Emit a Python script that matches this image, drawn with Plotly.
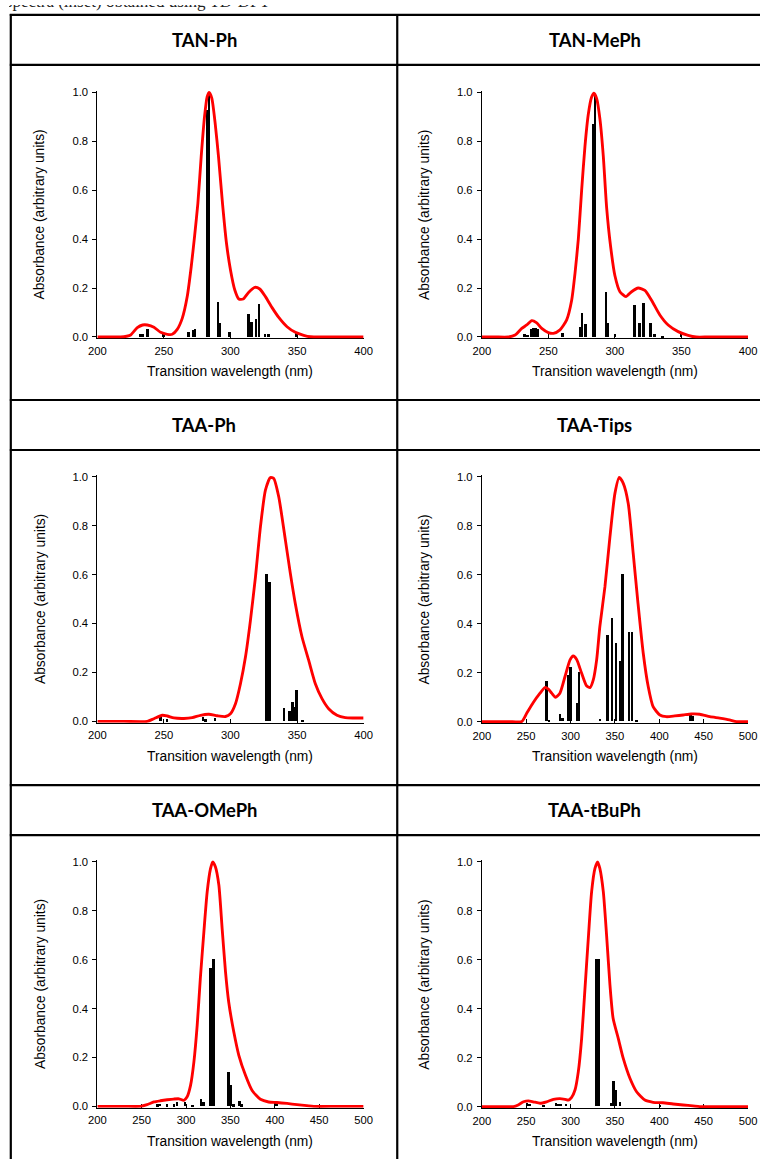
import plotly.graph_objects as go

W, H = 769, 1163

# ---------------- data ----------------
panel_titles = ["TAN-Ph", "TAN-MePh", "TAA-Ph", "TAA-Tips", "TAA-OMePh", "TAA-tBuPh"]
x_max = [400, 400, 400, 500, 500, 500]
y_ticks = [0.0, 0.2, 0.4, 0.6, 0.8, 1.0]
y_tick_labels = ["0.0", "0.2", "0.4", "0.6", "0.8", "1.0"]
x_title = "Transition wavelength (nm)"
y_title = "Absorbance (arbitrary units)"
caption_text = "spectra (inset) obtained using TD-DFT"

# TAN-Ph
tanph_curve_x = [200, 210, 217.5, 222, 225, 230, 234, 237.5, 242.5, 247.5, 252.5, 256.25, 260, 263.75,
                 267.5, 270.5, 273, 275.5, 278, 280.5, 282.5, 284, 286, 288.5, 291, 294, 297, 300,
                 303.25, 306.25, 309.5, 313.75, 318.25, 322, 326.25, 331.25, 336.25, 342.5, 348.75,
                 355, 360, 370, 385, 400]
tanph_curve_y = [0, 0, 0, 0.003, 0.008, 0.038, 0.049, 0.049, 0.04, 0.019, 0.011, 0.011, 0.031, 0.076,
                 0.165, 0.287, 0.41, 0.546, 0.737, 0.9, 0.982, 0.999, 0.975, 0.873, 0.737, 0.546, 0.383,
                 0.274, 0.192, 0.155, 0.155, 0.183, 0.203, 0.196, 0.165, 0.12, 0.08, 0.042, 0.019,
                 0.007, 0.001, 0, 0, 0]
tanph_stick_x = [232.5, 234, 238, 250, 268.75, 272, 273.5, 283, 284.2, 290.75, 292, 299.5,
                 314, 316.25, 319.5, 321.75, 326.25, 329, 349.5]
tanph_stick_y = [0.015, 0.012, 0.035, 0.012, 0.022, 0.031, 0.034, 0.93, 0.995, 0.144, 0.06, 0.02,
                 0.094, 0.061, 0.076, 0.135, 0.015, 0.014, 0.018]

# TAN-MePh
tanmeph_curve_x = [200, 210, 220, 225, 230, 233.75, 237.5, 241, 245, 250, 253.75, 258.75, 263.75,
                   267.5, 270, 272.5, 275, 277.5, 280, 282.5, 284.25, 286.25, 288.75, 291.25, 293.75,
                   296.75, 300, 303.75, 308.25, 312.5, 317.5, 322.5, 327.5, 333.75, 340, 347.5, 355,
                   361, 370, 385, 400]
tanmeph_curve_y = [0, 0, 0, 0.008, 0.035, 0.049, 0.067, 0.059, 0.035, 0.018, 0.015, 0.029, 0.07,
                   0.15, 0.26, 0.40, 0.60, 0.78, 0.91, 0.98, 0.996, 0.975, 0.89, 0.74, 0.53,
                   0.37, 0.25, 0.185, 0.165, 0.185, 0.2, 0.19, 0.15, 0.09, 0.049, 0.022, 0.007,
                   0, 0, 0, 0]
tanmeph_stick_x = [231.75, 234.25, 237, 238.25, 240, 241.75, 260.5, 273.75, 275.25, 277.75, 283.5,
                   284.75, 293, 294.25, 300, 314.5, 318.25, 321.25, 326.75, 329.5, 335.5, 349.5]
tanmeph_stick_y = [0.015, 0.011, 0.035, 0.038, 0.038, 0.033, 0.019, 0.04, 0.097, 0.053, 0.873,
                   0.99, 0.183, 0.06, 0.015, 0.13, 0.06, 0.138, 0.06, 0.015, 0.007, 0.012]

# TAA-Ph
taaph_curve_x = [200, 220, 237.5, 242.5, 248.75, 252.5, 257.5, 265, 271.25, 277.5, 283.75, 290,
                 296.25, 300, 303.75, 307.5, 311.25, 315, 318.75, 322.5, 326.25, 330, 332.5, 336.25,
                 341.25, 345, 348.75, 353.75, 358.75, 363.75, 368.75, 373.75, 380, 386.25, 393, 400]
taaph_curve_y = [0, 0, 0, 0.011, 0.025, 0.022, 0.014, 0.012, 0.015, 0.025, 0.029, 0.023,
                 0.02, 0.031, 0.072, 0.154, 0.263, 0.413, 0.59, 0.795, 0.945, 0.997, 0.993, 0.918,
                 0.741, 0.604, 0.48, 0.345, 0.25, 0.154, 0.093, 0.052, 0.025, 0.015, 0.014, 0.014]
taaph_stick_x = [247.5, 252.5, 279.5, 281.5, 288.75, 327.5, 329.5, 340.5, 344.5, 347, 348, 349.75, 354.5]
taaph_stick_y = [0.015, 0.007, 0.015, 0.008, 0.011, 0.602, 0.57, 0.052, 0.042, 0.078, 0.056, 0.127, 0.004]

# TAA-Tips
taatips_curve_x = [200, 230, 245, 250.6, 258, 265.6, 271, 275, 278.75, 283, 288, 293.75, 299.4, 303,
                   306.9, 312.5, 318, 322, 325.6, 329.4, 333, 338.75, 344.4, 350, 354.9, 359.4, 365,
                   370.6, 376, 381.9, 387.5, 393, 400.6, 408, 417.5, 426.9, 436, 445.6, 457, 468,
                   479, 487, 500]
taatips_curve_y = [0, 0, 0, 0.034, 0.078, 0.116, 0.139, 0.133, 0.116, 0.099, 0.116, 0.184, 0.252, 0.268,
                   0.254, 0.197, 0.146, 0.139, 0.17, 0.252, 0.388, 0.551, 0.755, 0.932, 0.997, 0.973, 0.891,
                   0.687, 0.483, 0.279, 0.143, 0.061, 0.027, 0.02, 0.023, 0.027, 0.031, 0.03, 0.02, 0.014,
                   0.007, 0, 0]
taatips_stick_x = [272.4, 275.75, 288, 291, 297.5, 299.75, 306.9, 309.5, 333, 341.4, 346.6, 351,
                   355.6, 358.6, 365.75, 369, 374.4, 435, 437]
taatips_stick_y = [0.166, 0.007, 0.03, 0.012, 0.189, 0.223, 0.073, 0.2, 0.011, 0.352, 0.424, 0.321,
                   0.248, 0.603, 0.366, 0.365, 0.005, 0.027, 0.023]

# TAA-OMePh
taaomeph_curve_x = [200, 230, 248.75, 256, 263.75, 271, 278.75, 286, 292, 297.5, 301, 305, 308.75,
                    312.5, 316, 320, 323.75, 327.5, 330, 333, 336.9, 340.6, 344.4, 348, 353.75, 359.4,
                    366.9, 374.4, 383.75, 393, 402.5, 413.75, 425, 436, 443.75, 470, 500]
taaomeph_curve_y = [0, 0, 0, 0.007, 0.018, 0.023, 0.027, 0.03, 0.031, 0.025, 0.038, 0.086, 0.181,
                    0.332, 0.522, 0.713, 0.877, 0.972, 1.0, 0.98, 0.905, 0.727, 0.55, 0.427, 0.304, 0.209,
                    0.127, 0.065, 0.029, 0.018, 0.016, 0.012, 0.007, 0.003, 0, 0, 0]
taaomeph_stick_x = [268, 271, 278.75, 287, 290, 299.4, 307.6, 317.4, 320, 328, 331, 348, 350.4,
                    353.75, 360.5, 363, 400.6, 403]
taaomeph_stick_y = [0.007, 0.01, 0.007, 0.008, 0.015, 0.015, 0.004, 0.029, 0.016, 0.566, 0.6, 0.139,
                    0.086, 0.008, 0.02, 0.008, 0.016, 0.011]

# TAA-tBuPh
taatbuph_curve_x = [200, 225, 235.6, 241, 247, 252.5, 258, 265.6, 273, 280.6, 288, 293.75, 297.5,
                    301, 305, 308.75, 312.5, 316, 320, 323.75, 327.5, 330.5, 333, 336.9, 340.6, 344.4,
                    348, 353.75, 359.4, 366.9, 374.4, 383.75, 393, 404, 415.6, 426.9, 438, 445.6, 470, 500]
taatbuph_curve_y = [0, 0, 0, 0.007, 0.02, 0.024, 0.02, 0.014, 0.02, 0.03, 0.033, 0.03, 0.027,
                    0.037, 0.068, 0.143, 0.279, 0.469, 0.687, 0.878, 0.973, 1.0, 0.973, 0.878, 0.7, 0.497,
                    0.36, 0.279, 0.197, 0.116, 0.061, 0.027, 0.018, 0.016, 0.011, 0.007, 0.003, 0, 0, 0]
taatbuph_stick_x = [250.6, 253.6, 269.4, 283.6, 286, 289, 294.5, 328.25, 331, 345.5, 348, 351, 355.6, 400.6]
taatbuph_stick_y = [0.014, 0.01, 0.007, 0.014, 0.011, 0.01, 0.01, 0.601, 0.6, 0.014, 0.102, 0.068, 0.018, 0.007]

curves = [
    (tanph_curve_x, tanph_curve_y, tanph_stick_x, tanph_stick_y),
    (tanmeph_curve_x, tanmeph_curve_y, tanmeph_stick_x, tanmeph_stick_y),
    (taaph_curve_x, taaph_curve_y, taaph_stick_x, taaph_stick_y),
    (taatips_curve_x, taatips_curve_y, taatips_stick_x, taatips_stick_y),
    (taaomeph_curve_x, taaomeph_curve_y, taaomeph_stick_x, taaomeph_stick_y),
    (taatbuph_curve_x, taatbuph_curve_y, taatbuph_stick_x, taatbuph_stick_y),
]

# ---------------- layout geometry (target pixels in the final picture) ----------------
plot_boxes = [
    (96.7, 92.3, 363.3, 337.0),
    (481.7, 92.3, 748.3, 337.0),
    (96.7, 476.7, 363.3, 721.3),
    (481.7, 476.7, 748.3, 721.5),
    (96.7, 861.7, 363.3, 1106.2),
    (481.7, 861.7, 748.3, 1106.5),
]
header_centers = [(203.5, 40), (595, 40), (203.5, 425), (595, 425), (203.5, 810), (595, 810)]
Y_PAD = 0.006

# compensation for the small offset/scale seen in the rendered picture
SX, OX = 0.978, 8.2
SY, OY = 0.992, 5.1
FS = 1.0 / SX


def gx(px):
    return (px - OX) / SX


def gy(py):
    return (py - OY) / SY


def fx(px):
    return gx(px) / W


def fy(py):
    return 1 - gy(py) / H


TICK_FONT = dict(family="Liberation Sans, Arial, sans-serif", size=11 * FS, color="black")
TITLE_FONT = dict(family="Liberation Sans, Arial, sans-serif", size=13.5 * FS, color="black")

fig = go.Figure()
annotations = []
shapes = []

for i, (cx, cy, sx, sy) in enumerate(curves):
    n = "" if i == 0 else str(i + 1)
    x0, y0, x1, y1 = plot_boxes[i]
    X0, X1 = gx(x0), gx(x1)
    Y0, Y1 = gy(y0), gy(y1)
    pad_px = Y_PAD * (Y1 - Y0)
    span = x_max[i] - 200
    bar_w = 2.6 * span / (X1 - X0)

    fig.add_trace(go.Bar(x=sx, y=sy, width=bar_w, marker=dict(color="black", line=dict(width=0)),
                         xaxis="x" + n, yaxis="y" + n, showlegend=False))
    fig.add_trace(go.Scatter(x=cx, y=cy, mode="lines",
                             line=dict(color="#ff0000", width=2.85, shape="spline", smoothing=0.6),
                             xaxis="x" + n, yaxis="y" + n, showlegend=False))

    fig.layout["xaxis" + n] = dict(
        domain=[X0 / W, X1 / W], range=[200, x_max[i]], anchor="y" + n,
        tickvals=list(range(200, x_max[i] + 1, 50)), ticks="inside", ticklen=4, tickwidth=1,
        tickcolor="black", showline=True, linecolor="black", linewidth=1, showgrid=False,
        zeroline=False, tickfont=TICK_FONT, layer="below traces", ticklabelstandoff=2,
    )
    fig.layout["yaxis" + n] = dict(
        domain=[1 - (Y1 + pad_px) / H, 1 - (Y0 - pad_px) / H], range=[-Y_PAD, 1 + Y_PAD], anchor="x" + n,
        tickvals=y_ticks, ticktext=y_tick_labels, ticks="outside", ticklen=4, tickwidth=1,
        tickcolor="black", showline=True, linecolor="black", linewidth=1, showgrid=False,
        zeroline=False, tickfont=TICK_FONT, layer="below traces", ticklabelstandoff=2,
    )

    annotations.append(dict(text=x_title, x=fx((x0 + x1) / 2), y=fy(y1 + 35), xref="paper", yref="paper",
                            showarrow=False, font=TITLE_FONT, xanchor="center", yanchor="middle"))
    annotations.append(dict(text=y_title, x=fx(x0 - 57.5), y=fy((y0 + y1) / 2), xref="paper", yref="paper",
                            showarrow=False, font=TITLE_FONT, textangle=-90,
                            xanchor="center", yanchor="middle"))
    hx, hy = header_centers[i]
    annotations.append(dict(text="<b>" + panel_titles[i] + "</b>", x=fx(hx), y=fy(hy), xref="paper",
                            yref="paper", showarrow=False,
                            font=dict(family="Lato, Open Sans, sans-serif", size=18 * FS, color="black"),
                            xanchor="center", yanchor="middle"))

# partially visible caption at the very top: text trace clipped by a thin invisible strip axis
fig.add_trace(go.Scatter(x=[gx(5)], y=[0], mode="text", text=[caption_text], textposition="top right",
                         textfont=dict(family="Liberation Serif, Times New Roman, serif", size=17, color="#222"),
                         xaxis="x7", yaxis="y7", showlegend=False, cliponaxis=True, hoverinfo="skip"))
fig.layout["xaxis7"] = dict(domain=[0, 1], range=[0, W], visible=False, anchor="y7", fixedrange=True)
fig.layout["yaxis7"] = dict(domain=[1 - 6 / H, 1], range=[0, 1], visible=False, anchor="x7", fixedrange=True)

# table grid lines (kept inside the figure)
LW = 2.2
for yy in [15, 65, 400, 450, 785, 835]:
    shapes.append(dict(type="line", xref="paper", yref="paper", x0=fx(9), x1=1, y0=fy(yy), y1=fy(yy),
                       line=dict(color="black", width=LW)))
for xx in [10, 397]:
    shapes.append(dict(type="line", xref="paper", yref="paper", x0=fx(xx), x1=fx(xx), y0=fy(14), y1=0,
                       line=dict(color="black", width=LW)))

fig.update_layout(
    width=W, height=H, autosize=False, margin=dict(l=0, r=0, t=0, b=0),
    paper_bgcolor="white", plot_bgcolor="white",
    barmode="overlay", bargap=0,
    annotations=annotations, shapes=shapes,
)

fig.write_html(
    "out.html", config={"displayModeBar": False, "responsive": False},
    post_script=("document.documentElement.style.margin='0';document.body.style.margin='0';"
                 "document.body.style.padding='0';document.documentElement.style.overflow='hidden';"
                 "document.body.style.overflow='hidden';"),
)
